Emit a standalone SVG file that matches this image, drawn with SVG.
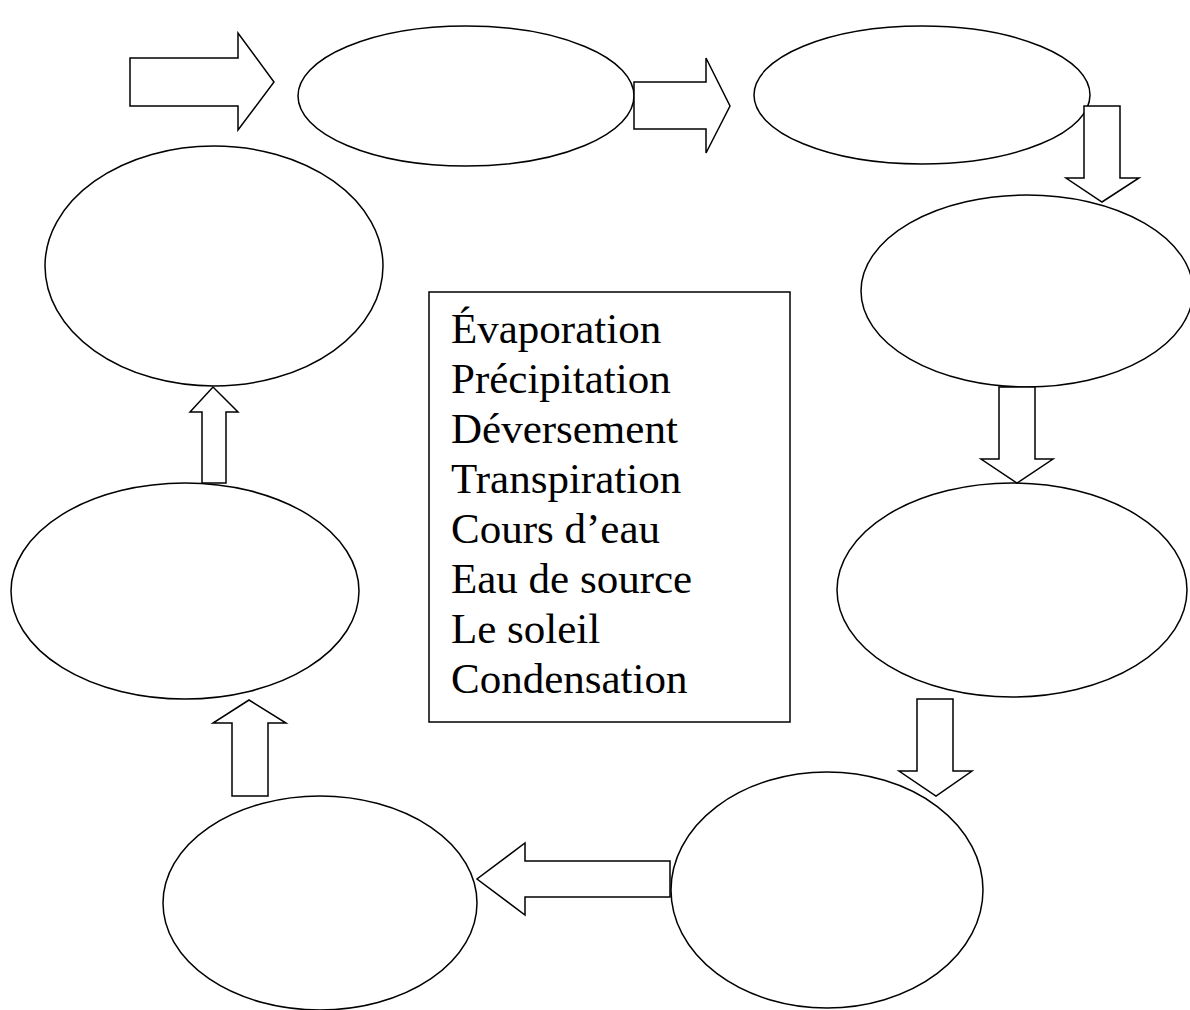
<svg xmlns="http://www.w3.org/2000/svg" width="1190" height="1010" viewBox="0 0 1190 1010">
<style>
.n{fill:#fff;stroke:#000;stroke-width:1.5}
.a{fill:#fff;stroke:#000;stroke-width:1.5;stroke-linejoin:miter}
.t{font-family:"Liberation Serif","Times New Roman",serif;font-size:43px;fill:#000}
</style>
<rect width="1190" height="1010" fill="#fff"/>
<g id="nodes">
<g id="n1"><ellipse class="n" cx="466" cy="96" rx="168" ry="70"/></g>
<g id="n2"><ellipse class="n" cx="922" cy="95" rx="168" ry="69"/></g>
<g id="n3"><ellipse class="n" cx="1027" cy="291" rx="166" ry="96"/></g>
<g id="n4"><ellipse class="n" cx="1012" cy="590" rx="175" ry="107"/></g>
<g id="n5"><ellipse class="n" cx="827" cy="890" rx="156" ry="118"/></g>
<g id="n6"><ellipse class="n" cx="320" cy="903" rx="157" ry="107"/></g>
<g id="n7"><ellipse class="n" cx="185" cy="591" rx="174" ry="108"/></g>
<g id="n8"><ellipse class="n" cx="214" cy="266" rx="169" ry="120"/></g>
<g id="legend">
<rect class="n" x="429" y="292" width="361" height="430"/>
<text class="t" x="451" y="343">Évaporation</text>
<text class="t" x="451" y="393">Précipitation</text>
<text class="t" x="451" y="443">Déversement</text>
<text class="t" x="451" y="493">Transpiration</text>
<text class="t" x="451" y="543">Cours d’eau</text>
<text class="t" x="451" y="593">Eau de source</text>
<text class="t" x="451" y="643">Le soleil</text>
<text class="t" x="451" y="693">Condensation</text>
</g>
</g>
<g id="connectors">
<polygon class="a" points="130,58 238,58 238,33 274,82 238,130 238,106 130,106"/>
<polygon class="a" points="634,82 706,82 706,58 730,106 706,153 706,129 634,129"/>
<polygon class="a" points="1084,106 1120,106 1120,178 1139,178 1102,202 1066,178 1084,178"/>
<polygon class="a" points="999,387 1035,387 1035,459 1053,459 1017,483 981,459 999,459"/>
<polygon class="a" points="917,699 953,699 953,771 972,771 936,796 899,771 917,771"/>
<polygon class="a" points="670,861 525,861 525,843 477,879 525,915 525,897 670,897"/>
<polygon class="a" points="232,796 268,796 268,723 286,723 249,700 213,723 232,723"/>
<polygon class="a" points="202,483 226,483 226,412 238,412 213,387 190,412 202,412"/>
</g>
</svg>
